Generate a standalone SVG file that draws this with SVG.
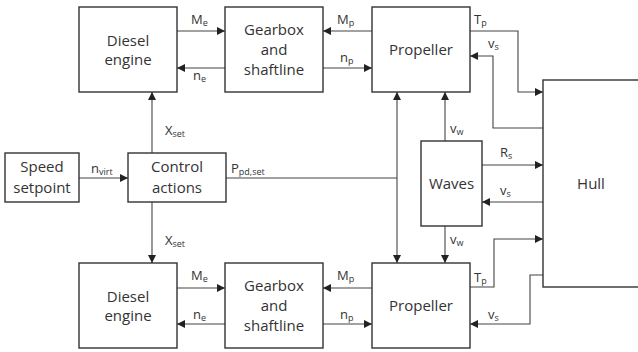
<svg xmlns="http://www.w3.org/2000/svg" width="638" height="352" viewBox="0 0 638 352">
<defs>
<marker id="ah" viewBox="0 0 10 10" refX="10" refY="5" markerWidth="8" markerHeight="8" markerUnits="userSpaceOnUse" orient="auto"><path d="M0,0 L10,5 L0,10 z" fill="#222"/></marker>
<style>
.box{fill:#fff;stroke:#333;stroke-width:1.4}
.t{font-family:"Open Sans","Liberation Sans",sans-serif;font-size:15px;fill:#333;text-anchor:middle}
.l{font-family:"Open Sans","Liberation Sans",sans-serif;font-size:13px;fill:#333}
.s{font-size:9px}
.c{fill:none;stroke:#444;stroke-width:1.1;marker-end:url(#ah)}
.n{fill:none;stroke:#444;stroke-width:1.1}
</style>
</defs>
<rect width="638" height="352" fill="#fff"/>
<g id="connectors">
<path class="c" d="M177,31 H225"/>
<path class="c" d="M225,68 H177"/>
<path class="c" d="M372,31 H323"/>
<path class="c" d="M323,68 H372"/>
<path class="c" d="M470,31 H518 V92 H543"/>
<path class="c" d="M543,128 H493 V56 H470"/>
<path class="c" d="M152,153 V92"/>
<path class="c" d="M152,202 V263"/>
<path class="c" d="M79,178 H128"/>
<path class="n" d="M226,178 H397"/>
<path class="c" d="M397,178 V92"/>
<path class="c" d="M397,178 V263"/>
<path class="c" d="M445,141 V92"/>
<path class="c" d="M445,226 V263"/>
<path class="c" d="M482,165 H543"/>
<path class="c" d="M543,202 H482"/>
<path class="c" d="M177,288 H225"/>
<path class="c" d="M225,324 H177"/>
<path class="c" d="M372,288 H323"/>
<path class="c" d="M323,324 H372"/>
<path class="c" d="M470,287 H494 V239 H543"/>
<path class="c" d="M543,275 H530 V324 H470"/>
</g>
<g id="labels">
<text class="l" x="191" y="24">M<tspan class="s" dy="2">e</tspan></text>
<text class="l" x="193" y="80">n<tspan class="s" dy="2">e</tspan></text>
<text class="l" x="337" y="24">M<tspan class="s" dy="2">p</tspan></text>
<text class="l" x="340" y="62">n<tspan class="s" dy="2">p</tspan></text>
<text class="l" x="474" y="24">T<tspan class="s" dy="2">p</tspan></text>
<text class="l" x="488" y="48">v<tspan class="s" dy="2">s</tspan></text>
<text class="l" x="165" y="135">X<tspan class="s" dy="2">set</tspan></text>
<text class="l" x="91" y="173">n<tspan class="s" dy="2">virt</tspan></text>
<text class="l" x="231" y="173">P<tspan class="s" dy="2">pd,set</tspan></text>
<text class="l" x="450" y="133">v<tspan class="s" dy="2">w</tspan></text>
<text class="l" x="500" y="157">R<tspan class="s" dy="2">s</tspan></text>
<text class="l" x="500" y="195">v<tspan class="s" dy="2">s</tspan></text>
<text class="l" x="450" y="244">v<tspan class="s" dy="2">w</tspan></text>
<text class="l" x="165" y="245">X<tspan class="s" dy="2">set</tspan></text>
<text class="l" x="191" y="280">M<tspan class="s" dy="2">e</tspan></text>
<text class="l" x="193" y="319">n<tspan class="s" dy="2">e</tspan></text>
<text class="l" x="337" y="280">M<tspan class="s" dy="2">p</tspan></text>
<text class="l" x="340" y="319">n<tspan class="s" dy="2">p</tspan></text>
<text class="l" x="474" y="282">T<tspan class="s" dy="2">p</tspan></text>
<text class="l" x="488" y="319">v<tspan class="s" dy="2">s</tspan></text>
</g>
<g id="diesel-top"><rect class="box" x="79" y="7" width="98" height="85"/><text class="t" x="128" y="46">Diesel</text><text class="t" x="128" y="65">engine</text></g>
<g id="gearbox-top"><rect class="box" x="225" y="7" width="98" height="85"/><text class="t" x="274" y="35">Gearbox</text><text class="t" x="274" y="55">and</text><text class="t" x="274" y="75">shaftline</text></g>
<g id="propeller-top"><rect class="box" x="372" y="7" width="98" height="85"/><text class="t" x="421" y="55">Propeller</text></g>
<g id="hull"><rect class="box" x="543" y="80" width="100" height="207"/><text class="t" x="591" y="189">Hull</text></g>
<g id="waves"><rect class="box" x="421" y="141" width="61" height="85"/><text class="t" x="451.5" y="189">Waves</text></g>
<g id="speed-setpoint"><rect class="box" x="5" y="153" width="74" height="49"/><text class="t" x="42" y="172">Speed</text><text class="t" x="42" y="193">setpoint</text></g>
<g id="control-actions"><rect class="box" x="128" y="153" width="98" height="49"/><text class="t" x="177" y="172">Control</text><text class="t" x="177" y="193">actions</text></g>
<g id="diesel-bottom"><rect class="box" x="79" y="263" width="98" height="85"/><text class="t" x="128" y="302">Diesel</text><text class="t" x="128" y="321">engine</text></g>
<g id="gearbox-bottom"><rect class="box" x="225" y="263" width="98" height="85"/><text class="t" x="274" y="291">Gearbox</text><text class="t" x="274" y="311">and</text><text class="t" x="274" y="331">shaftline</text></g>
<g id="propeller-bottom"><rect class="box" x="372" y="263" width="98" height="85"/><text class="t" x="421" y="311">Propeller</text></g>
</svg>
